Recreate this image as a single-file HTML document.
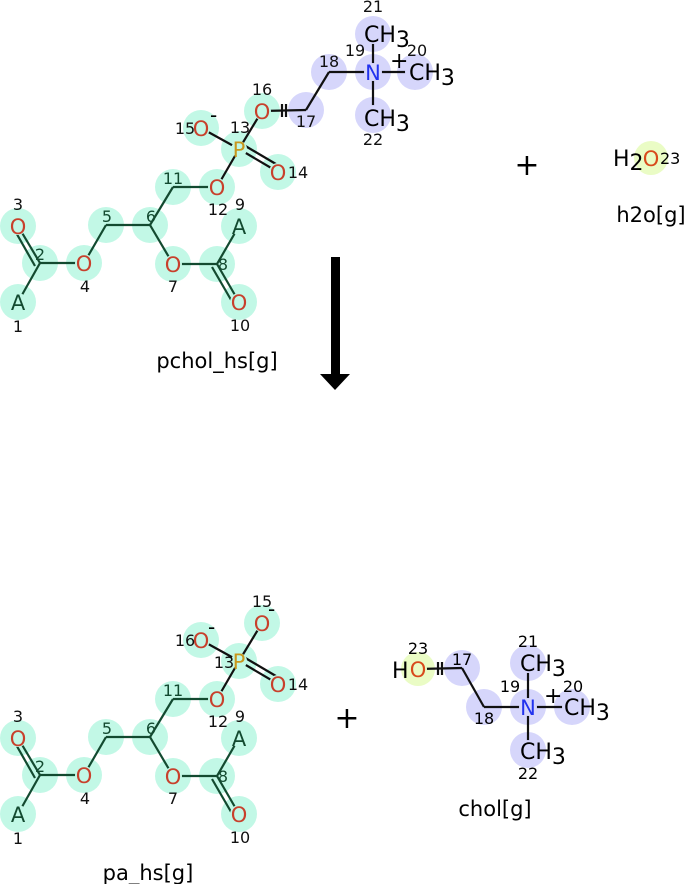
<!DOCTYPE html>
<html><head><meta charset="utf-8"><style>body{margin:0;background:#fff}svg{display:block}text{font-family:"DejaVu Sans","Liberation Sans",sans-serif}</style></head><body>
<svg width="686" height="884" viewBox="0 0 686 884" xmlns="http://www.w3.org/2000/svg">
<!-- TOP MOLECULE -->
<g>
<g fill="#c2f8e6">
<circle cx="18" cy="302" r="18"/><circle cx="40" cy="263" r="18"/><circle cx="18" cy="226" r="18"/><circle cx="84" cy="263" r="18"/><circle cx="106" cy="225" r="18"/><circle cx="150" cy="225" r="18"/><circle cx="173" cy="264" r="18"/><circle cx="217" cy="264" r="18"/><circle cx="239" cy="226" r="18"/><circle cx="239" cy="302" r="18"/><circle cx="173" cy="187" r="18"/><circle cx="217" cy="187" r="18"/><circle cx="239" cy="149" r="18"/><circle cx="278" cy="172" r="18"/><circle cx="201" cy="128" r="18"/><circle cx="262" cy="111" r="18"/>
</g>
<g fill="#d6d6fb">
<circle cx="306" cy="110" r="18"/><circle cx="329" cy="72" r="18"/><circle cx="373" cy="72" r="18"/><circle cx="415" cy="72" r="18"/><circle cx="373" cy="34" r="18"/><circle cx="373" cy="115" r="18"/>
</g>
<g stroke="#134a30" stroke-width="2.2" fill="none">
<line x1="18" y1="302" x2="40" y2="263"/>
<line x1="40" y1="263" x2="18" y2="226"/><line x1="35" y1="266" x2="14" y2="229"/>
<line x1="40" y1="263" x2="84" y2="263"/><line x1="84" y1="263" x2="106" y2="225"/>
<line x1="106" y1="225" x2="150" y2="225"/><line x1="150" y1="225" x2="173" y2="264"/>
<line x1="173" y1="264" x2="217" y2="264"/><line x1="217" y1="264" x2="239" y2="226"/>
<line x1="217" y1="264" x2="239" y2="302"/><line x1="212" y1="267" x2="234" y2="305"/>
<line x1="150" y1="225" x2="173" y2="187"/><line x1="173" y1="187" x2="217" y2="187"/>
</g>
<g stroke="#111" stroke-width="2.2" fill="none">
<line x1="217" y1="187" x2="239" y2="149"/>
<line x1="239" y1="149" x2="278" y2="172"/><line x1="242" y1="144" x2="281" y2="167"/>
<line x1="239" y1="149" x2="201" y2="128"/><line x1="239" y1="149" x2="262" y2="111"/>
<line x1="262" y1="111" x2="306" y2="110"/><line x1="282" y1="104" x2="282" y2="117"/><line x1="286" y1="104" x2="286" y2="117"/>
<line x1="306" y1="110" x2="329" y2="72"/><line x1="329" y1="72" x2="373" y2="72"/>
<line x1="373" y1="72" x2="415" y2="72"/><line x1="373" y1="72" x2="373" y2="34"/><line x1="373" y1="72" x2="373" y2="115"/>
</g>
<g fill="#c2f8e6">
<circle cx="18" cy="302" r="9"/><circle cx="18" cy="226" r="9"/><circle cx="84" cy="263" r="9"/><circle cx="173" cy="264" r="9"/><circle cx="239" cy="226" r="9"/><circle cx="239" cy="302" r="9"/><circle cx="217" cy="187" r="9"/><circle cx="239" cy="149" r="8"/><circle cx="278" cy="172" r="9"/><circle cx="201" cy="128" r="9"/><circle cx="262" cy="111" r="9"/>
</g>
<g fill="#d6d6fb"><circle cx="373" cy="72" r="9"/><circle cx="415" cy="72" r="10"/><circle cx="373" cy="34" r="10"/><circle cx="373" cy="115" r="10"/></g>
<g font-size="21" text-anchor="middle" dominant-baseline="central">
<text x="18" y="303" fill="#134a30">A</text><text x="239" y="227" fill="#134a30">A</text>
<g fill="#c8402c"><text x="18" y="227">O</text><text x="84" y="264">O</text><text x="173" y="265">O</text><text x="239" y="303">O</text><text x="217" y="188">O</text><text x="278" y="173">O</text><text x="201" y="129">O</text><text x="262" y="112">O</text></g>
<text x="239" y="150" fill="#c8961c">P</text>
<text x="373" y="73" fill="#2233ee">N</text>
</g>
<g font-size="22" fill="#000"><text x="364" y="42">CH<tspan dy="5">3</tspan></text><text x="364" y="126">CH<tspan dy="5">3</tspan></text><text x="409" y="80">CH<tspan dy="5">3</tspan></text></g>
<g font-size="16" fill="#111" text-anchor="middle">
<text x="18" y="332">1</text><text x="40" y="260" fill="#134a30">2</text><text x="18" y="210">3</text><text x="85" y="292">4</text><text x="107" y="222" fill="#134a30">5</text><text x="151" y="222" fill="#134a30">6</text><text x="173" y="292">7</text><text x="223" y="270" fill="#134a30">8</text><text x="240" y="210">9</text><text x="240" y="331">10</text><text x="173" y="184" fill="#134a30">11</text><text x="218" y="215">12</text><text x="240" y="133">13</text><text x="298" y="178">14</text><text x="185" y="134">15</text><text x="262" y="95">16</text><text x="306" y="127">17</text><text x="329" y="67">18</text><text x="355" y="56">19</text><text x="417" y="56">20</text><text x="373" y="12">21</text><text x="373" y="145">22</text>
</g>
<text x="210" y="122" font-size="20">-</text>
<text x="390" y="68" font-size="22">+</text>
</g>

<!-- H2O -->
<circle cx="651" cy="158" r="17" fill="#eafcc5"/>
<text x="613" y="166" font-size="22">H<tspan dy="4">2</tspan></text>
<text x="651" y="159" font-size="21" fill="#d84a1c" text-anchor="middle" dominant-baseline="central">O</text>
<text x="660" y="164" font-size="16">23</text>
<text x="651" y="222" font-size="21" text-anchor="middle">h2o[g]</text>
<text x="527" y="175" font-size="30" text-anchor="middle">+</text>
<text x="217" y="368" font-size="21" text-anchor="middle">pchol_hs[g]</text>

<!-- Arrow -->
<rect x="331" y="257" width="9" height="120" fill="#000"/>
<polygon points="320,374 350,374 335,390" fill="#000"/>

<!-- BOTTOM MOLECULE -->
<g transform="translate(0,512)">
<g fill="#c2f8e6">
<circle cx="18" cy="302" r="18"/><circle cx="40" cy="263" r="18"/><circle cx="18" cy="226" r="18"/><circle cx="84" cy="263" r="18"/><circle cx="106" cy="225" r="18"/><circle cx="150" cy="225" r="18"/><circle cx="173" cy="264" r="18"/><circle cx="217" cy="264" r="18"/><circle cx="239" cy="226" r="18"/><circle cx="239" cy="302" r="18"/><circle cx="173" cy="187" r="18"/><circle cx="217" cy="187" r="18"/><circle cx="239" cy="149" r="18"/><circle cx="278" cy="172" r="18"/><circle cx="201" cy="128" r="18"/><circle cx="262" cy="111" r="18"/>
</g>
<g stroke="#134a30" stroke-width="2.2" fill="none">
<line x1="18" y1="302" x2="40" y2="263"/>
<line x1="40" y1="263" x2="18" y2="226"/><line x1="35" y1="266" x2="14" y2="229"/>
<line x1="40" y1="263" x2="84" y2="263"/><line x1="84" y1="263" x2="106" y2="225"/>
<line x1="106" y1="225" x2="150" y2="225"/><line x1="150" y1="225" x2="173" y2="264"/>
<line x1="173" y1="264" x2="217" y2="264"/><line x1="217" y1="264" x2="239" y2="226"/>
<line x1="217" y1="264" x2="239" y2="302"/><line x1="212" y1="267" x2="234" y2="305"/>
<line x1="150" y1="225" x2="173" y2="187"/><line x1="173" y1="187" x2="217" y2="187"/>
</g>
<g stroke="#111" stroke-width="2.2" fill="none">
<line x1="217" y1="187" x2="239" y2="149"/>
<line x1="239" y1="149" x2="278" y2="172"/><line x1="242" y1="144" x2="281" y2="167"/>
<line x1="239" y1="149" x2="201" y2="128"/><line x1="239" y1="149" x2="262" y2="111"/>
</g>
<g fill="#c2f8e6">
<circle cx="18" cy="302" r="9"/><circle cx="18" cy="226" r="9"/><circle cx="84" cy="263" r="9"/><circle cx="173" cy="264" r="9"/><circle cx="239" cy="226" r="9"/><circle cx="239" cy="302" r="9"/><circle cx="217" cy="187" r="9"/><circle cx="239" cy="149" r="8"/><circle cx="278" cy="172" r="9"/><circle cx="201" cy="128" r="9"/><circle cx="262" cy="111" r="9"/>
</g>
<g font-size="21" text-anchor="middle" dominant-baseline="central">
<text x="18" y="303" fill="#134a30">A</text><text x="239" y="227" fill="#134a30">A</text>
<g fill="#c8402c"><text x="18" y="227">O</text><text x="84" y="264">O</text><text x="173" y="265">O</text><text x="239" y="303">O</text><text x="217" y="188">O</text><text x="278" y="173">O</text><text x="201" y="129">O</text><text x="262" y="112">O</text></g>
<text x="239" y="150" fill="#c8961c">P</text>
</g>
<g font-size="16" fill="#111" text-anchor="middle">
<text x="18" y="332">1</text><text x="40" y="260" fill="#134a30">2</text><text x="18" y="210">3</text><text x="85" y="292">4</text><text x="107" y="222" fill="#134a30">5</text><text x="151" y="222" fill="#134a30">6</text><text x="173" y="292">7</text><text x="223" y="270" fill="#134a30">8</text><text x="240" y="210">9</text><text x="240" y="331">10</text><text x="173" y="184" fill="#134a30">11</text><text x="218" y="215">12</text><text x="224" y="156">13</text><text x="298" y="178">14</text><text x="185" y="134">16</text><text x="262" y="95">15</text>
</g>
<text x="208" y="122" font-size="20">-</text>
<text x="268" y="104" font-size="20">-</text>
</g>
<text x="347" y="728" font-size="30" text-anchor="middle">+</text>
<text x="148" y="880" font-size="21" text-anchor="middle">pa_hs[g]</text>

<!-- CHOLINE -->
<circle cx="418" cy="669" r="17" fill="#eafcc5"/>
<g fill="#d6d6fb"><circle cx="462" cy="668" r="18"/><circle cx="484" cy="707" r="18"/><circle cx="528" cy="707" r="18"/><circle cx="572" cy="707" r="18"/><circle cx="528" cy="663" r="18"/><circle cx="528" cy="750" r="18"/></g>
<g stroke="#111" stroke-width="2.2">
<line x1="418" y1="669" x2="462" y2="668"/><line x1="438" y1="662" x2="438" y2="675"/><line x1="442" y1="662" x2="442" y2="675"/>
<line x1="462" y1="668" x2="484" y2="707"/><line x1="484" y1="707" x2="528" y2="707"/>
<line x1="528" y1="707" x2="572" y2="707"/><line x1="528" y1="707" x2="528" y2="663"/><line x1="528" y1="707" x2="528" y2="750"/>
</g>
<circle cx="418" cy="669" r="9" fill="#eafcc5"/>
<g fill="#d6d6fb"><circle cx="528" cy="707" r="9"/><circle cx="572" cy="707" r="10"/><circle cx="528" cy="663" r="10"/><circle cx="528" cy="750" r="10"/></g>
<text x="392" y="678" font-size="22">H</text>
<text x="418" y="670" font-size="21" fill="#d84a1c" text-anchor="middle" dominant-baseline="central">O</text>
<text x="528" y="708" font-size="21" fill="#2233ee" text-anchor="middle" dominant-baseline="central">N</text>
<g font-size="22"><text x="520" y="671">CH<tspan dy="5">3</tspan></text><text x="520" y="759">CH<tspan dy="5">3</tspan></text><text x="564" y="715">CH<tspan dy="5">3</tspan></text></g>
<g font-size="16" text-anchor="middle"><text x="418" y="654">23</text><text x="462" y="665">17</text><text x="484" y="724">18</text><text x="510" y="692">19</text><text x="573" y="692">20</text><text x="528" y="647">21</text><text x="528" y="779">22</text></g>
<text x="544" y="703" font-size="22">+</text>
<text x="495" y="816" font-size="21" text-anchor="middle">chol[g]</text>
</svg>
</body></html>
